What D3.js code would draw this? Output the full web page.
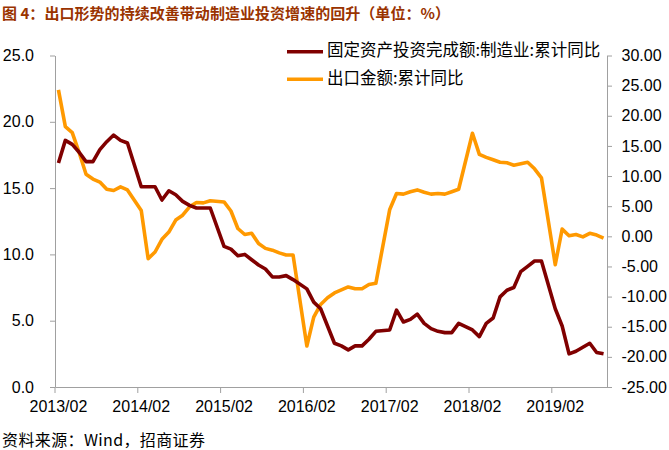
<!DOCTYPE html>
<html>
<head>
<meta charset="utf-8">
<script src="https://cdn.jsdelivr.net/npm/d3@7"></script>
<style>
  html, body { margin: 0; padding: 0; background: #fff; }
  svg { display: block; }
</style>
</head>
<body>
<svg id="chart" width="669" height="450"></svg>
<script>
// ---------------- DATA ----------------
const months = [
  "2013/02","2013/03","2013/04","2013/05","2013/06","2013/07","2013/08","2013/09","2013/10","2013/11","2013/12",
  "2014/01","2014/02","2014/03","2014/04","2014/05","2014/06","2014/07","2014/08","2014/09","2014/10","2014/11","2014/12",
  "2015/01","2015/02","2015/03","2015/04","2015/05","2015/06","2015/07","2015/08","2015/09","2015/10","2015/11","2015/12",
  "2016/01","2016/02","2016/03","2016/04","2016/05","2016/06","2016/07","2016/08","2016/09","2016/10","2016/11","2016/12",
  "2017/01","2017/02","2017/03","2017/04","2017/05","2017/06","2017/07","2017/08","2017/09","2017/10","2017/11","2017/12",
  "2018/01","2018/02","2018/03","2018/04","2018/05","2018/06","2018/07","2018/08","2018/09","2018/10","2018/11","2018/12",
  "2019/01","2019/02","2019/03","2019/04","2019/05","2019/06","2019/07","2019/08","2019/09"
];

// 固定资产投资完成额:制造业:累计同比 (left axis, %)
const mfgInvestYoY = [
  16.9, 18.6, 18.3, 17.7, 17.0, 17.0, 17.9, 18.5, 19.0, 18.6, 18.4,
  null, 15.1, 15.1, 15.1, 14.1, 14.8, 14.5, 14.0, 13.7, 13.5, 13.5, 13.5,
  null, 10.6, 10.4, 9.9, 10.0, 9.6, 9.2, 8.9, 8.3, 8.3, 8.4, 8.1,
  null, 7.4, 6.4, 5.9, 4.6, 3.3, 3.1, 2.8, 3.1, 3.1, 3.6, 4.2,
  null, 4.3, 5.8, 4.9, 5.1, 5.5, 4.8, 4.4, 4.2, 4.1, 4.1, 4.8,
  null, 4.3, 3.8, 4.8, 5.2, 6.8, 7.3, 7.5, 8.7, 9.1, 9.5, 9.5,
  null, 5.9, 4.6, 2.5, 2.7, 3.0, 3.3, 2.6, 2.5
];

// 出口金额:累计同比 (right axis, %)
const exportYoY = [
  24.3, 18.2, 17.2, 13.9, 10.3, 9.5, 9.0, 7.8, 7.6, 8.2, 7.7,
  null, 4.3, -3.7, -2.6, -0.5, 0.7, 2.7, 3.5, 4.9, 5.6, 5.55, 5.9,
  null, 5.7, 4.2, 1.3, 0.3, 0.5, -1.2, -2.0, -2.3, -2.75, -3.1, -3.1,
  null, -18.2, -13.4, -11.3, -10.2, -9.4, -8.9, -8.4, -8.7, -8.7, -8.0, -7.8,
  null, 4.4, 7.1, 7.0, 7.4, 7.7, 7.3, 7.0, 7.1, 7.0, 7.4, 7.8,
  null, 17.1, 13.6, 13.1, 12.7, 12.3, 12.2, 11.8, 12.05, 12.3, 11.2, 9.7,
  null, -4.7, 1.2, 0.1, 0.3, -0.1, 0.5, 0.2, -0.3
];

const leftTicks  = [0, 5, 10, 15, 20, 25];
const rightTicks = [-25, -20, -15, -10, -5, 0, 5, 10, 15, 20, 25, 30];
const xTickLabels = ["2013/02","2014/02","2015/02","2016/02","2017/02","2018/02","2019/02"];

const seriesNames  = ["固定资产投资完成额:制造业:累计同比", "出口金额:累计同比"];
const seriesColors = ["#800000", "#FF9900"];
const titleText  = "图 4：出口形势的持续改善带动制造业投资增速的回升（单位：%）";
const sourceText = "资料来源：Wind，招商证券";

// ---------------- LAYOUT ----------------
const plot = { left: 55, right: 607, top: 55.5, bottom: 387 };
const axisColor = "#a0a0a0";
const numFont = "'Liberation Sans', Arial, sans-serif";
const cjkFont = "'Noto Sans CJK SC', 'Noto Sans', sans-serif";

const svg = d3.select("#chart");

const x  = d3.scaleBand().domain(months).range([plot.left, plot.right]).paddingInner(0).paddingOuter(0);
const yL = d3.scaleLinear().domain([0, 25]).range([plot.bottom, plot.top]);
const yR = d3.scaleLinear().domain([-25, 30]).range([plot.bottom, plot.top]);
const cx = m => x(m) + x.bandwidth() / 2;

function styleAxis(g) {
  g.attr("font-family", numFont).attr("font-size", 16);
  g.selectAll("path, line").attr("stroke", axisColor).attr("stroke-width", 1);
  g.selectAll("text").attr("fill", "#000");
}

// Left axis
svg.append("g")
  .attr("transform", `translate(${plot.left},0)`)
  .call(d3.axisLeft(yL).tickValues(leftTicks).tickFormat(d => d.toFixed(1))
        .tickSizeInner(5).tickSizeOuter(0).tickPadding(16))
  .call(styleAxis);

// Right axis
svg.append("g")
  .attr("transform", `translate(${plot.right},0)`)
  .call(d3.axisRight(yR).tickValues(rightTicks).tickFormat(d => d.toFixed(2))
        .tickSizeInner(5).tickSizeOuter(0).tickPadding(9.5))
  .call(styleAxis);

// Bottom axis (labels centred on category, tick marks on category boundary)
const gx = svg.append("g")
  .attr("transform", `translate(0,${plot.bottom})`)
  .call(d3.axisBottom(x).tickValues(xTickLabels)
        .tickSizeInner(6).tickSizeOuter(0).tickPadding(8))
  .call(styleAxis);
gx.selectAll(".tick line").attr("transform", `translate(${-x.bandwidth() / 2},0)`);

// ---------------- LINES ----------------
function seriesData(values) {
  return months.map((m, i) => ({ m, v: values[i] })).filter(d => d.v !== null);
}
const lineL = d3.line().x(d => cx(d.m)).y(d => yL(d.v));
const lineR = d3.line().x(d => cx(d.m)).y(d => yR(d.v));

svg.append("path")
  .datum(seriesData(exportYoY))
  .attr("d", lineR)
  .attr("fill", "none")
  .attr("stroke", seriesColors[1])
  .attr("stroke-width", 3.6)
  .attr("stroke-linejoin", "round");

svg.append("path")
  .datum(seriesData(mfgInvestYoY))
  .attr("d", lineL)
  .attr("fill", "none")
  .attr("stroke", seriesColors[0])
  .attr("stroke-width", 3.6)
  .attr("stroke-linejoin", "round");

// ---------------- LEGEND ----------------
const legendRows = [51.7, 79.3];
seriesNames.forEach((name, i) => {
  const g = svg.append("g");
  g.append("line")
    .attr("x1", 287).attr("x2", 323)
    .attr("y1", legendRows[i]).attr("y2", legendRows[i])
    .attr("stroke", seriesColors[i]).attr("stroke-width", 3.6);
  g.append("text")
    .attr("x", 327).attr("y", legendRows[i] + 4.5)
    .attr("font-family", cjkFont).attr("font-size", 16.5)
    .attr("fill", "#000")
    .text(name);
});

// ---------------- TITLE & SOURCE ----------------
svg.append("text")
  .attr("x", 2).attr("y", 18.5)
  .attr("font-family", cjkFont).attr("font-size", 15).attr("font-weight", "bold")
  .attr("fill", "#9a3300")
  .attr("textLength", 448).attr("lengthAdjust", "spacing")
  .text(titleText);

svg.append("text")
  .attr("x", 2).attr("y", 446)
  .attr("font-family", cjkFont).attr("font-size", 16)
  .attr("fill", "#000")
  .attr("textLength", 203).attr("lengthAdjust", "spacing")
  .text(sourceText);
</script>
</body>
</html>
